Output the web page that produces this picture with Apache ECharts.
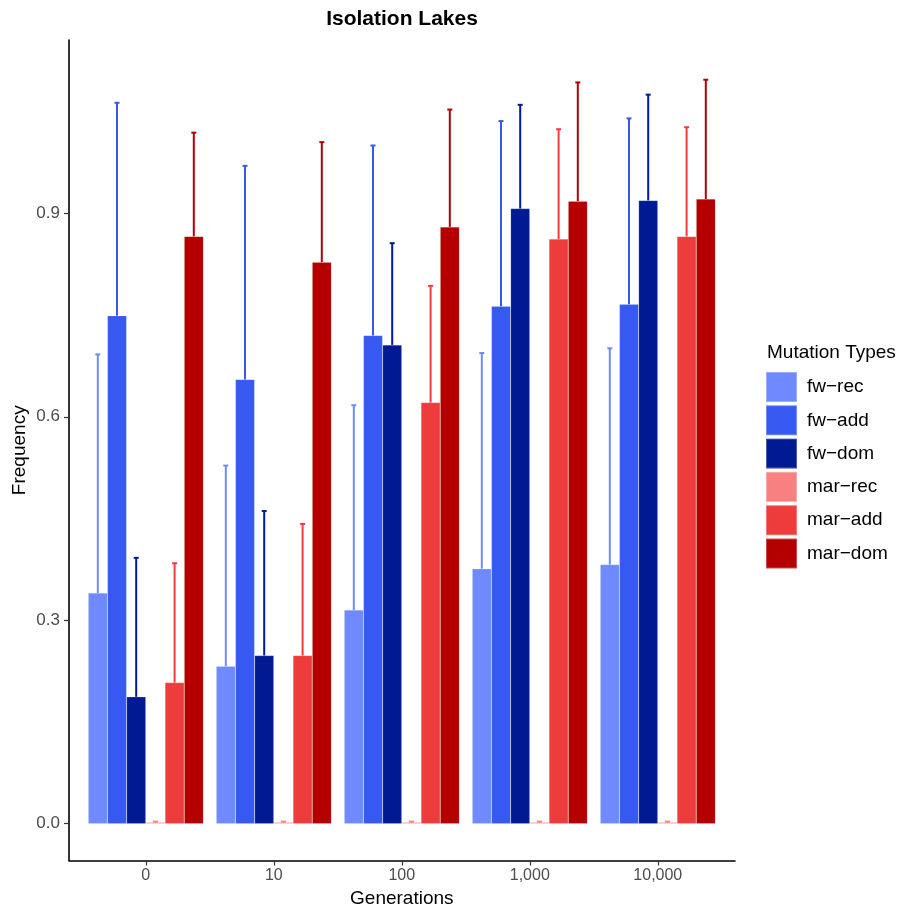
<!DOCTYPE html>
<html>
<head>
<meta charset="utf-8">
<script src="https://cdn.jsdelivr.net/npm/echarts@6/dist/echarts.min.js"></script>
<style>html,body{margin:0;padding:0;background:#fff}#c{width:902px;height:908px}</style>
</head>
<body>
<div id="c"></div>
<script>
const categories = ['0', '10', '100', '1,000', '10,000'];
const seriesNames = ['fw\u2212rec', 'fw\u2212add', 'fw\u2212dom', 'mar\u2212rec', 'mar\u2212add', 'mar\u2212dom'];
const fwRec = [0.340, 0.232, 0.315, 0.376, 0.382];
const fwRecUpper = [0.692, 0.528, 0.617, 0.694, 0.701];
const fwAdd = [0.749, 0.655, 0.720, 0.763, 0.766];
const fwAddUpper = [1.063, 0.970, 1.000, 1.036, 1.040];
const fwDom = [0.187, 0.248, 0.706, 0.907, 0.919];
const fwDomUpper = [0.392, 0.461, 0.856, 1.060, 1.075];
const marRec = [0.002, 0.002, 0.002, 0.002, 0.002];
const marRecUpper = [0.003, 0.003, 0.003, 0.003, 0.003];
const marAdd = [0.208, 0.248, 0.621, 0.862, 0.866];
const marAddUpper = [0.384, 0.442, 0.793, 1.024, 1.027];
const marDom = [0.866, 0.828, 0.880, 0.918, 0.921];
const marDomUpper = [1.019, 1.005, 1.053, 1.093, 1.097];
const yTicks = [0, 0.3, 0.6, 0.9];

const values = [fwRec, fwAdd, fwDom, marRec, marAdd, marDom];
const uppers = [fwRecUpper, fwAddUpper, fwDomUpper, marRecUpper, marAddUpper, marDomUpper];
const colors = ['#6F8AFF', '#3759F2', '#001A93', '#F98080', '#EE3C3C', '#B40000'];

const FONT = 'Liberation Sans, Arial, Helvetica, sans-serif';
const YMIN = -0.0543, YMAX = 1.1556;
const N = seriesNames.length;

const series = [];
values.forEach((vals, i) => {
  series.push({
    name: seriesNames[i], type: 'bar', xAxisIndex: 1, yAxisIndex: 1,
    data: vals, barGap: '0%', barCategoryGap: '10%',
    itemStyle: { color: colors[i], borderColor: 'rgba(255,255,255,0.3)', borderWidth: 0.5 },
    emphasis: { disabled: true }, z: 2
  });
});
values.forEach((vals, i) => {
  series.push({
    name: 'err' + i, type: 'custom', xAxisIndex: 1, yAxisIndex: 1,
    data: vals.map((v, k) => [k, v, uppers[i][k]]),
    z: 3, silent: true,
    renderItem: function (params, api) {
      const x = api.value(0), lo = api.value(1), hi = api.value(2);
      const bandW = api.size([1, 0])[0];
      const barW = bandW * 0.9 / N;
      const off = (i - (N - 1) / 2) * barW;
      const p0 = api.coord([x, lo]);
      const p1 = api.coord([x, hi]);
      const cx = p0[0] + off;
      const style = { stroke: colors[i], lineWidth: 2 };
      return {
        type: 'group',
        children: [
          { type: 'line', shape: { x1: cx, y1: p0[1], x2: cx, y2: p1[1] }, style: style },
          { type: 'line', shape: { x1: cx - 2.5, y1: p1[1], x2: cx + 2.5, y2: p1[1] }, style: style }
        ]
      };
    }
  });
});

const option = {
  animation: false,
  backgroundColor: '#fff',
  textStyle: { fontFamily: FONT },
  title: [
    { text: 'Isolation Lakes', left: 397, top: 4, textAlign: 'center',
      textStyle: { fontFamily: FONT, fontSize: 21, fontWeight: 'bold', color: '#000' } },
    { text: 'Mutation Types', left: 762, top: 338,
      textStyle: { fontFamily: FONT, fontSize: 19, fontWeight: 'normal', color: '#000' } }
  ],
  legend: {
    data: seriesNames, orient: 'vertical', left: 760, top: 366,
    icon: 'rect', itemWidth: 31, itemHeight: 30, itemGap: 1.3,
    textStyle: { fontFamily: FONT, fontSize: 19, color: '#000', padding: [0, 0, 0, 5] },
    selectedMode: false
  },
  grid: [
    { left: 69, right: 167, top: 40, bottom: 47.5, containLabel: false, outerBoundsMode: 'none' },
    { left: 81.8, width: 640, top: 40, bottom: 47.5, containLabel: false, outerBoundsMode: 'none' }
  ],
  xAxis: [
    { type: 'value', gridIndex: 0, min: 0, max: 1,
      axisLine: { show: true, onZero: false, lineStyle: { color: '#000', width: 1.6 } },
      axisTick: { show: false }, axisLabel: { show: false }, splitLine: { show: false } },
    { type: 'category', gridIndex: 1, data: categories,
      name: 'Generations', nameLocation: 'middle', nameGap: 29, nameMoveOverlap: false,
      nameTextStyle: { fontFamily: FONT, fontSize: 19, color: '#000' },
      axisLine: { show: false, onZero: false },
      axisTick: { show: true, alignWithLabel: true, length: 5, lineStyle: { color: '#333', width: 1.2 } },
      axisLabel: { fontFamily: FONT, fontSize: 16, color: '#4D4D4D', margin: 7 },
      splitLine: { show: false } }
  ],
  yAxis: [
    { type: 'value', gridIndex: 0, min: YMIN, max: YMAX,
      name: 'Frequency', nameLocation: 'middle', nameGap: 40, nameMoveOverlap: false,
      nameTextStyle: { fontFamily: FONT, fontSize: 19, color: '#000' },
      axisLine: { show: true, onZero: false, lineStyle: { color: '#000', width: 1.6 } },
      axisTick: { show: true, length: 5, customValues: yTicks, lineStyle: { color: '#333', width: 1.2 } },
      axisLabel: { customValues: yTicks, fontFamily: FONT, fontSize: 17, color: '#4D4D4D', margin: 9,
        formatter: v => Number(v).toFixed(1) },
      splitLine: { show: false } },
    { type: 'value', gridIndex: 1, min: YMIN, max: YMAX, show: false, splitLine: { show: false } }
  ],
  series: series
};

echarts.init(document.getElementById('c'), null, { renderer: 'canvas' }).setOption(option);
</script>
</body>
</html>
